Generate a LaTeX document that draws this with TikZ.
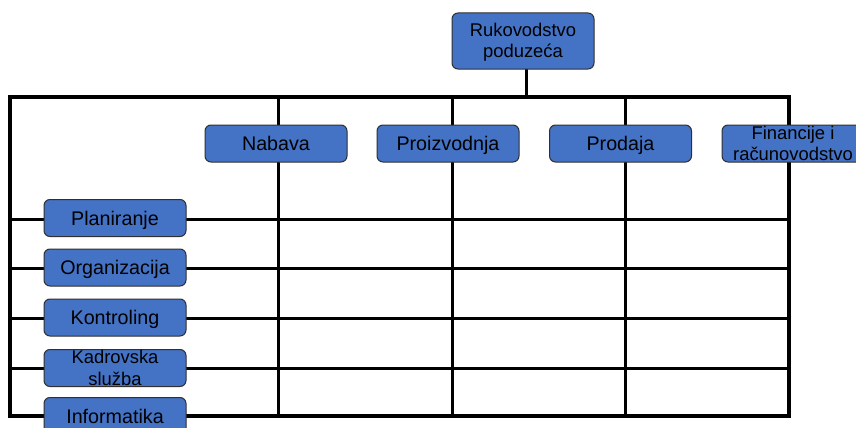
\documentclass[tikz,border=0pt]{standalone}
\usepackage{fontspec}
\setmainfont{Liberation Sans}
\usetikzlibrary{backgrounds}
\definecolor{boxblue}{HTML}{4472C4}
\definecolor{boxedge}{HTML}{303030}
\tikzset{
  orgbox/.style={draw=boxedge, line width=1pt, fill=boxblue, rounded corners=6pt,
    minimum width=142pt, minimum height=37pt, inner sep=0pt},
  lbl/.style={inner sep=0pt, align=center, text height=14.1pt, text depth=0pt,
    font=\fontsize{19.7}{22}\selectfont},
  lbltwo/.style={inner sep=0pt, align=center, font=\fontsize{18.4}{21.5}\selectfont},
  grid/.style={line width=3pt, line cap=rect}
}
\begin{document}
\begin{tikzpicture}[x=1pt, y=-1pt]
\clip (0,0) rectangle (856,428);
% top box
\node[orgbox, minimum height=56pt] (top) at (523,41) {};
\node[lbltwo] (toptxt) at (523,42) {Rukovodstvo\\poduzeća};
% column boxes
\node[orgbox] (nab) at (276,143.5) {};
\node[lbl] (nabtxt) at (nab) {Nabava};
\node[orgbox] (pro) at (448,143.5) {};
\node[lbl] (protxt) at (pro) {Proizvodnja};
\node[orgbox] (prd) at (620.5,143.5) {};
\node[lbl] (prdtxt) at (prd) {Prodaja};
\node[orgbox] (fin) at (793,143.5) {};
\node[lbltwo] (fintxt) at (fin) {Financije i\\računovodstvo};
% row boxes
\node[orgbox] (pla) at (115,218) {};
\node[lbl] (platxt) at (pla) {Planiranje};
\node[orgbox] (org) at (115,267.5) {};
\node[lbl] (orgtxt) at (org) {Organizacija};
\node[orgbox] (kon) at (115,317.5) {};
\node[lbl] (kontxt) at (kon) {Kontroling};
\node[orgbox] (kad) at (115,368) {};
\node[lbltwo] (kadtxt) at (kad) {Kadrovska\\služba};
\node[orgbox] (inf) at (115,416) {};
\node[lbl] (inftxt) at (inf) {Informatika};
% grid coordinates
\coordinate (tl) at (10,97);
\coordinate (tr) at (789,97);
\coordinate (bl) at (10,416);
\coordinate (br) at (789,416);
\coordinate (stem) at (526,97);
\coordinate (c1t) at (278,97);  \coordinate (c1b) at (278,416);
\coordinate (c2t) at (452,97);  \coordinate (c2b) at (452,416);
\coordinate (c3t) at (625,97);  \coordinate (c3b) at (625,416);
\coordinate (r1l) at (10,219);  \coordinate (r1r) at (789,219);
\coordinate (r2l) at (10,268);  \coordinate (r2r) at (789,268);
\coordinate (r3l) at (10,318);  \coordinate (r3r) at (789,318);
\coordinate (r4l) at (10,368);  \coordinate (r4r) at (789,368);
\begin{pgfonlayer}{background}
\fill[white] (0,0) rectangle (856,428);
\draw[grid] (top.south -| stem) -- (stem);
\draw[line width=3.5pt, line cap=rect] (bl) -- (tl) -- (tr) -- (br) -- (bl);
\draw[grid] (c1t) -- (c1b);
\draw[grid] (c2t) -- (c2b);
\draw[grid] (c3t) -- (c3b);
\draw[grid] (r1l) -- (r1r);
\draw[grid] (r2l) -- (r2r);
\draw[grid] (r3l) -- (r3r);
\draw[grid] (r4l) -- (r4r);
\end{pgfonlayer}
\end{tikzpicture}
\end{document}
